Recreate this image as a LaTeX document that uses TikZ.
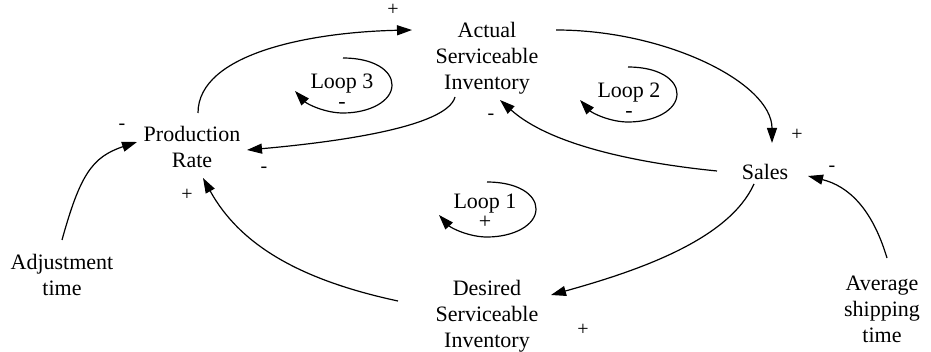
\documentclass[tikz,border=0pt]{standalone}
\usepackage{fontspec}
\setmainfont{Liberation Serif}
\usetikzlibrary{arrows.meta,calc}

\tikzset{
  var/.style={align=center,inner sep=0pt,font=\fontsize{22}{26}\selectfont},
  looplabel/.style={align=center,inner sep=0pt,font=\fontsize{22}{20}\selectfont},
  sign/.style={inner sep=0pt,font=\fontsize{20}{24}\selectfont},
  link/.style={line width=1.2pt,-{Triangle[length=15pt,width=10pt]}},
  loopmark/.pic={
    \draw[link] (0,0) .. controls (30,0) and (49,12) .. (49,27)
      .. controls (49,43) and (27,55) .. (0,55)
      .. controls (-18,55) and (-36,46) .. (-48,33);
  }
}

\begin{document}
\begin{tikzpicture}[x=1pt,y=-1pt]
\useasboundingbox (0,0) rectangle (931,352);

% variables
\node[var] (act)   at (487,58)  {Actual\\Serviceable\\Inventory};
\node[var] (prod)  at (192,147) {Production\\Rate};
\node[var] (sales) at (765,172) {Sales};
\node[var] (des)   at (487,316) {Desired\\Serviceable\\Inventory};
\node[var] (adj)   at (62,275)  {Adjustment\\time};
\node[var] (avg)   at (882,309) {Average\\shipping\\time};

% causal links
\draw[link] ($(prod)+(6,-34)$) .. controls +(0,-60) and +(-100,2) .. ($(act)+(-75,-28)$);
\draw[link] ($(act)+(-32,39)$) .. controls +(-8,30) and +(90,-8) .. ($(prod)+(55,3)$);
\draw[link] ($(act)+(69,-28)$) .. controls +(110,0) and +(0,-60) .. ($(sales)+(7,-29)$);
\draw[link] ($(sales)+(-48,-1)$) .. controls +(-80,-8) and +(50,45) .. ($(act)+(13,42)$);
\draw[link] ($(sales)+(-11,12)$) .. controls +(-25,55) and +(90,-25) .. ($(des)+(64,-21)$);
\draw[link] ($(avg)+(5,-51)$) .. controls +(-15,-50) and +(40,10) .. ($(sales)+(43,4)$);
\draw[link] ($(des)+(-89,-15)$) .. controls +(-98,-21) and +(37,67) .. ($(prod)+(11,31)$);
\draw[link] ($(adj)+(0,-35)$) .. controls +(18,-65) and +(-45,15) .. ($(prod)+(-55,-5)$);

% link polarities
\node[sign] (s1) at (393,10)  {+};
\node[sign] (s2) at (264,170) {-};
\node[sign] (s3) at (797,135) {+};
\node[sign] (s4) at (491,117) {-};
\node[sign] (s5) at (583,330) {+};
\node[sign] (s6) at (832,169) {-};
\node[sign] (s7) at (187,195) {+};
\node[sign] (s8) at (122,127) {-};

% loop markers: name and polarity, with the circular arrow round them
\node[looplabel] (l3) at (342,91)  {Loop 3\\-};
\pic at ($(l3)+(1,-33)$) {loopmark};

\node[looplabel] (l2) at (629,100) {Loop 2\\-};
\pic at ($(l2)+(-1,-33)$) {loopmark};

\node[looplabel] (l1) at (485,211) {Loop 1\\+};
\pic at ($(l1)+(2,-29)$) {loopmark};
\end{tikzpicture}
\end{document}
